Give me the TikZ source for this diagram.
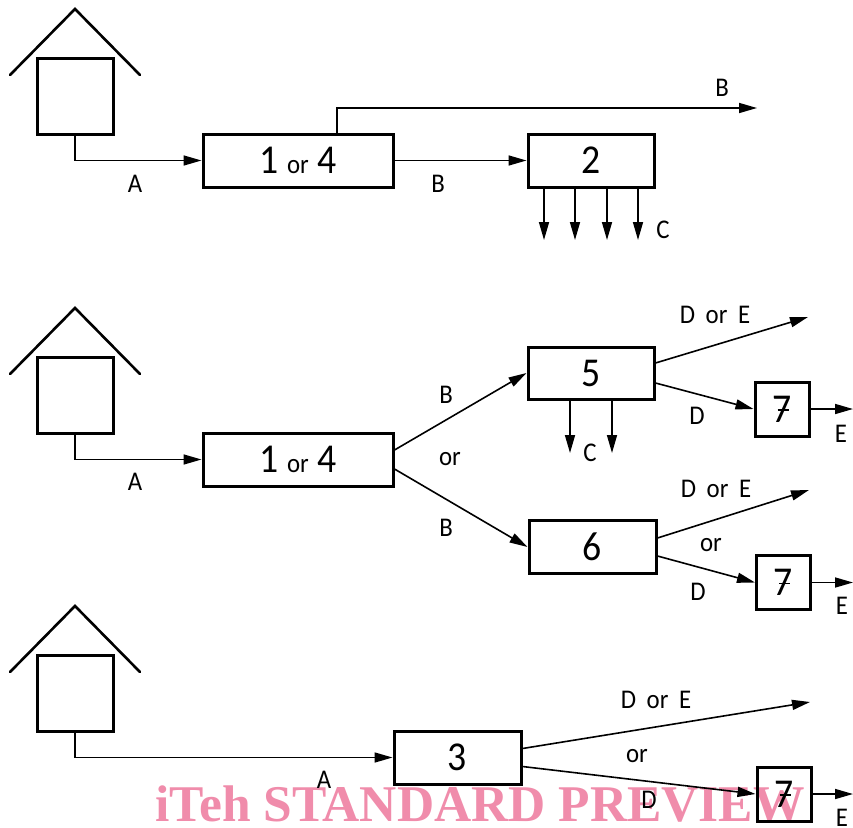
\documentclass[tikz,border=0pt]{standalone}
\usepackage{fontspec}
\setmainfont[FakeStretch=0.92]{Carlito}
\newfontfamily\wmfont{Liberation Serif}
\usetikzlibrary{arrows.meta,calc}
\definecolor{wmpink}{HTML}{F08CAB}
\newcommand{\myLab}{\fontsize{27}{27}\selectfont}
\newcommand{\myBig}{\fontsize{41}{41}\selectfont}
\newcommand{\barseven}{7\makebox[0pt][r]{\raisebox{11.5pt}{\rule{11pt}{1.5pt}\hspace{3pt}}}}
\tikzset{
  box/.style={draw,line width=3pt,inner sep=0pt,minimum width=#1,font=\myBig,anchor=center},
  tallbox/.style={box=#1,minimum height=53pt},
  sevenbox/.style={box=54pt,minimum height=54pt},
  hut/.style={draw,line width=3pt,inner sep=0pt,minimum width=76pt,minimum height=76pt},
  roof/.style={line width=2.6pt,line cap=round,line join=miter},
  wire/.style={line width=1.6pt},
  flow/.style={wire,-{Triangle[length=18pt,width=10pt]}},
  txt/.style={inner sep=0pt,font=\myLab},
}
\begin{document}
\begin{tikzpicture}[x=1pt,y=-1pt]
\useasboundingbox (0,0) rectangle (853,827);
\node[inner sep=0pt,text=wmpink,font=\wmfont\bfseries\fontsize{51.5}{51.5}\selectfont] (wm) at (480,804) {iTeh STANDARD PREVIEW};

% row 1
\node[hut] (h1) at (75,96) {};
\coordinate (r1a) at (10,75); \coordinate (r1b) at (75,9); \coordinate (r1c) at (140,75);
\draw[roof] (r1a) -- (r1b) -- (r1c);
\node[tallbox=190pt] (p1) at (298,160.5) {1 {\myLab or} 4};
\node[tallbox=126pt] (c2) at (591,160.5) {2};
\draw[flow] (h1.south) |- (p1.west);
\coordinate (bend1) at (757,108);
\draw[flow] ([xshift=39pt]p1.north) |- (bend1);
\draw[flow] (p1.east) -- (c2.west);
\coordinate (c1) at (544,240); \coordinate (c2e) at (575,240);
\coordinate (c3) at (607,240); \coordinate (c4) at (638,240);
\draw[flow] (c2.south -| c1) -- (c1);
\draw[flow] (c2.south -| c2e) -- (c2e);
\draw[flow] (c2.south -| c3) -- (c3);
\draw[flow] (c2.south -| c4) -- (c4);
\node[txt] (la1) at (135,184) {A};
\node[txt] (lb1) at (722,88) {B};
\node[txt] (lb2) at (438,184) {B};
\node[txt] (lc1) at (663,230) {C};

% row 2
\node[hut] (h2) at (75,395) {};
\coordinate (r2a) at (10,374); \coordinate (r2b) at (75,308); \coordinate (r2c) at (140,374);
\draw[roof] (r2a) -- (r2b) -- (r2c);
\node[tallbox=190pt] (p2) at (298,459.5) {1 {\myLab or} 4};
\node[box=126pt,minimum height=52pt] (c5) at (591,373) {5};
\node[sevenbox] (s1) at (782,409) {\barseven};
\node[tallbox=127pt] (c6) at (592.5,547) {6};
\node[sevenbox] (s2) at (783.5,582.5) {\barseven};
\draw[flow] (h2.south) |- (p2.west);
\draw[flow] ([yshift=9.5pt]p2.east) -- (c5.west);
\draw[flow] ([yshift=-9.5pt]p2.east) -- (c6.west);
\coordinate (o1) at (808,317); \coordinate (o2) at (853,409);
\coordinate (o3) at (809,490); \coordinate (o4) at (853,582.5);
\draw[flow] ([yshift=10pt]c5.east) -- (o1);
\draw[flow] ([yshift=-10pt]c5.east) -- (s1.west);
\draw[flow] (s1.east) -- (o2);
\draw[flow] ([yshift=9pt]c6.east) -- (o3);
\draw[flow] ([yshift=-9pt]c6.east) -- (s2.west);
\draw[flow] (s2.east) -- (o4);
\coordinate (c5a) at (570,453); \coordinate (c5b) at (612,453);
\draw[flow] (c5.south -| c5a) -- (c5a);
\draw[flow] (c5.south -| c5b) -- (c5b);
\node[txt] (la2) at (135,482) {A};
\node[txt] (lb3) at (446,395) {B};
\node[txt] (lor1) at (450,459) {or};
\node[txt] (lb4) at (446,528) {B};
\node[txt] (lde1) at (715,315) {D\hspace{5pt} or\hspace{5pt} E};
\node[txt] (ld1) at (697,416) {D};
\node[txt] (le1) at (841,434) {E};
\node[txt] (lc2) at (590,453) {C};
\node[txt] (lde2) at (716,489) {D\hspace{5pt} or\hspace{5pt} E};
\node[txt] (lor2) at (711,545) {or};
\node[txt] (ld2) at (698,592) {D};
\node[txt] (le2) at (842,606) {E};

% row 3
\node[hut] (h3) at (75,693) {};
\coordinate (r3a) at (10,672); \coordinate (r3b) at (75,606); \coordinate (r3c) at (140,672);
\draw[roof] (r3a) -- (r3b) -- (r3c);
\node[tallbox=127pt] (c3b) at (457.5,757.5) {3};
\node[sevenbox] (s3) at (784,794) {\barseven};
\draw[flow] (h3.south) |- (c3b.west);
\coordinate (o5) at (810,702); \coordinate (o6) at (853,794);
\draw[flow] ([yshift=9pt]c3b.east) -- (o5);
\draw[flow] ([yshift=-9pt]c3b.east) -- (s3.west);
\draw[flow] (s3.east) -- (o6);
\node[txt] (la3) at (324,780) {A};
\node[txt] (lde3) at (656,700) {D\hspace{5pt} or\hspace{5pt} E};
\node[txt] (lor3) at (637,756) {or};
\node[txt] (ld3) at (649,800) {D};
\node[txt] (le3) at (842,818) {E};
\end{tikzpicture}
\end{document}
